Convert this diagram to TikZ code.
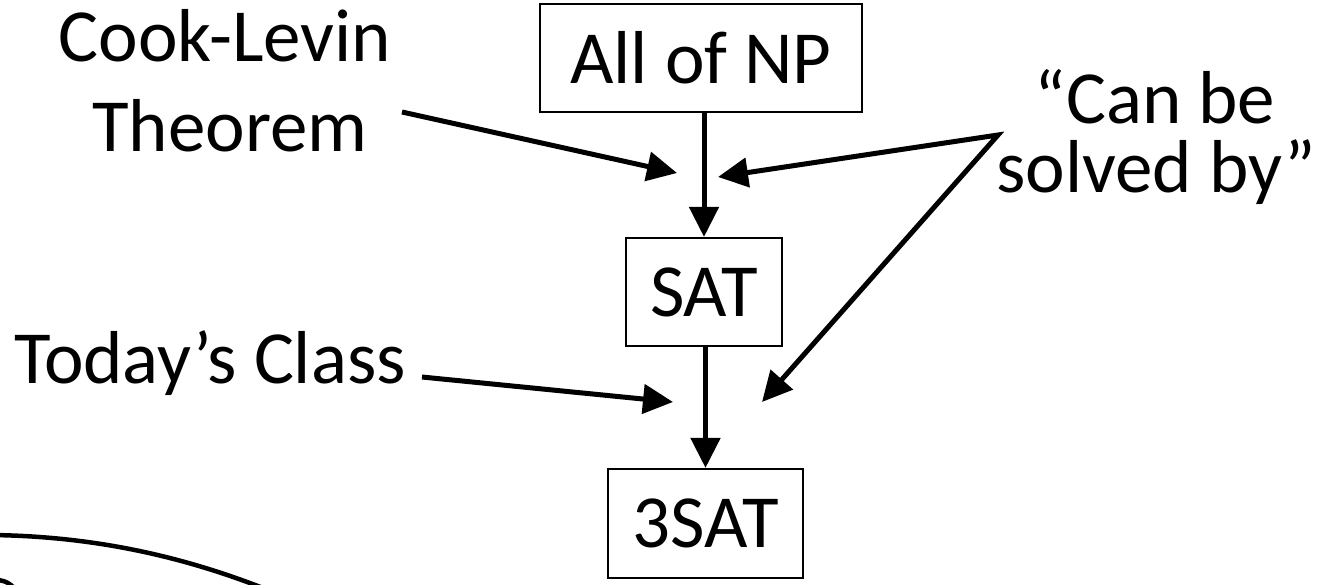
\documentclass[tikz,border=0pt]{standalone}
\usepackage{fontspec}
\setmainfont{Carlito}
\usetikzlibrary{arrows.meta}
\begin{document}
\begin{tikzpicture}[x=1pt,y=-1pt,
  lbl/.style={font=\fontsize{75}{90}\selectfont, inner sep=0pt, anchor=base},
  box/.style={draw, line width=2.2pt, inner sep=0pt, font=\fontsize{75}{90}\selectfont},
  arr/.style={line width=5pt, -{Triangle[length=30pt,width=29pt]}},
  curve/.style={line width=4.5pt}]
\useasboundingbox (0,0) rectangle (1320,585);
% boxes
\node[box, minimum width=322pt, minimum height=108pt] (np) at (701,58) {All of NP};
\node[box, minimum width=156pt, minimum height=108pt] (sat) at (704,292) {SAT};
\node[box, minimum width=195pt, minimum height=109pt] (tsat) at (705.5,523.5) {3SAT};
% labels
\node[lbl] (cl1) at (225,62) {Cook-Levin};
\node[lbl] (cl2) at (230,152) {Theorem};
\node[lbl] (tc) at (210,383) {Today’s Class};
\node[lbl] (cb1) at (1155,124) {“Can be};
\node[lbl] (cb2) at (1156,193) {solved by”};
% connector points
\coordinate (clS) at (402,112);
\coordinate (clT) at (677,173);
\coordinate (tcS) at (422,377);
\coordinate (tcT) at (673,402);
\coordinate (jn) at (998,135);
\coordinate (cbT1) at (718,177);
\coordinate (cbT2) at (762,402);
% vertical arrows
\draw[arr] (np.south -| sat.north) -- (sat.north);
\draw[arr] (sat.south -| tsat.north) -- (tsat.north);
% pointer arrows
\draw[arr] (clS) -- (clT);
\draw[arr] (tcS) -- (tcT);
\draw[line width=5pt, {Triangle[length=30pt,width=29pt]}-{Triangle[length=30pt,width=29pt]}] (cbT1) -- (jn) -- (cbT2);
% partial curves at the bottom left
\begin{scope}
\clip (0,0) rectangle (1320,585);
\draw[curve] (-10,535) .. controls (90,536) and (180,555) .. (268,590);
\draw[curve] (-10,581) .. controls (0,579) and (8,580) .. (18,592);
\end{scope}
\end{tikzpicture}
\end{document}
